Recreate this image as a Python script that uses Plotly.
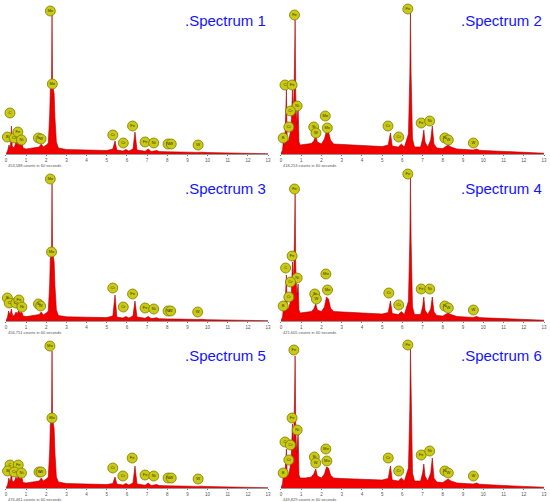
import plotly.graph_objects as go

# EDS spectra, energy in keV, intensity in relative counts (0-150 scale)
s1_energy = [0, 0.08, 0.15, 0.2, 0.24, 0.27, 0.31, 0.4, 0.5, 0.55, 0.6, 0.7, 0.78, 0.85, 1.0, 1.2, 1.5, 1.65,
             1.75, 1.85, 2.0, 2.1, 2.17, 2.2, 2.26, 2.285, 2.31, 2.35, 2.39, 2.43, 2.5, 2.6, 2.8, 3.0, 4.0, 5.0,
             5.3, 5.41, 5.5, 5.8, 5.95, 6.1, 6.3, 6.4, 6.5, 6.9, 7.06, 7.2, 7.48, 7.6, 8.0, 8.4, 8.6, 9.5, 9.67,
             10.0, 11.0, 12.0, 13.0]
s1_counts = [0, 3, 9, 6, 12, 28, 8, 6, 12, 9, 13, 10, 12, 6, 5, 5.5, 6, 7,
             10, 7, 9, 11, 40, 64, 70, 139, 70, 66, 60, 36, 12, 6, 5, 4.5, 4, 3.5,
             5, 13, 4, 3, 4.5, 3, 5, 22, 4, 2.8, 5, 2.5, 3.5, 2.4, 2.2, 2.5, 2, 1.6, 1.8,
             1.4, 1, 0.6, 0.3]

s2_energy = [0, 0.08, 0.12, 0.18, 0.22, 0.27, 0.31, 0.38, 0.45, 0.52, 0.57, 0.62, 0.67, 0.7, 0.73, 0.78, 0.85,
             0.89, 0.95, 1.2, 1.5, 1.62, 1.72, 1.8, 2.0, 2.15, 2.25, 2.35, 2.45, 2.6, 3.0, 4.0, 5.0, 5.3, 5.41,
             5.5, 5.8, 5.95, 6.1, 6.3, 6.37, 6.4, 6.43, 6.5, 6.6, 6.9, 7.0, 7.06, 7.12, 7.25, 7.4, 7.48, 7.56,
             7.7, 8.0, 8.26, 8.4, 8.7, 9.5, 9.67, 9.8, 10.0, 11.0, 12.0, 13.0]
s2_counts = [0, 4, 14, 8, 30, 64, 12, 14, 20, 35, 64, 40, 90, 134, 60, 30, 48,
             12, 9, 10, 10.5, 13, 18, 12, 10, 15, 23, 22, 14, 10, 9.5, 8.5, 7.5, 9, 21,
             8, 7, 10, 7, 20, 80, 141, 80, 15, 7, 7, 15, 24, 12, 7, 14, 28, 10,
             6, 5.5, 9, 7, 5, 4, 5, 3.8, 3.5, 2.5, 1.6, 0.8]

s3_energy = [0, 0.08, 0.13, 0.2, 0.27, 0.32, 0.4, 0.5, 0.55, 0.62, 0.7, 0.78, 0.85, 1.0, 1.2, 1.5, 1.65, 1.75,
             1.85, 2.0, 2.1, 2.17, 2.2, 2.26, 2.285, 2.31, 2.35, 2.39, 2.43, 2.5, 2.6, 2.8, 3.0, 4.0, 5.0, 5.3,
             5.41, 5.5, 5.8, 5.95, 6.1, 6.3, 6.4, 6.5, 6.9, 7.06, 7.2, 7.48, 7.6, 8.0, 8.4, 8.6, 9.5, 9.67,
             10.0, 11.0, 12.0, 13.0]
s3_counts = [0, 4, 10, 6, 12, 6, 5, 9, 7, 10, 8, 9, 5, 4.5, 5, 5.5, 6.5, 9,
             6, 8, 10, 38, 63, 69, 137, 69, 65, 59, 35, 11, 5.5, 4.5, 4.2, 3.8, 3.4, 5,
             26, 4, 3, 4.5, 3, 5, 20, 4, 2.8, 4.5, 2.5, 3.2, 2.3, 2.1, 2.4, 1.9, 1.5, 1.7,
             1.3, 0.9, 0.6, 0.3]

s4_energy = [0, 0.08, 0.12, 0.18, 0.22, 0.27, 0.31, 0.38, 0.45, 0.52, 0.57, 0.62, 0.67, 0.7, 0.73, 0.78, 0.85,
             0.89, 0.95, 1.2, 1.5, 1.62, 1.72, 1.8, 2.0, 2.15, 2.25, 2.35, 2.45, 2.6, 3.0, 4.0, 5.0, 5.3, 5.41,
             5.5, 5.8, 5.95, 6.1, 6.3, 6.37, 6.4, 6.43, 6.5, 6.6, 6.9, 7.0, 7.06, 7.12, 7.25, 7.4, 7.48, 7.56,
             7.7, 8.0, 8.26, 8.4, 8.7, 9.5, 9.67, 9.8, 10.0, 11.0, 12.0, 13.0]
s4_counts = [0, 4, 13, 8, 24, 46, 11, 13, 18, 30, 59, 38, 85, 127, 55, 26, 37,
             11, 8, 9, 9.5, 12, 17, 11, 9.5, 14, 24, 22, 13, 9.5, 9, 8, 7, 8.5, 20,
             7.5, 6.5, 9.5, 6.5, 20, 82, 144, 82, 14, 6.5, 6.5, 14, 24, 11, 6.5, 12, 24, 9,
             5.5, 5, 8, 6.5, 4.5, 3.6, 4.5, 3.4, 3.2, 2.3, 1.5, 0.8]

s5_energy = [0, 0.08, 0.14, 0.2, 0.24, 0.27, 0.31, 0.4, 0.5, 0.55, 0.6, 0.7, 0.78, 0.85, 1.0, 1.2, 1.5, 1.65,
             1.75, 1.85, 2.0, 2.1, 2.17, 2.2, 2.26, 2.285, 2.31, 2.35, 2.39, 2.43, 2.5, 2.6, 2.8, 3.0, 4.0, 5.0,
             5.3, 5.41, 5.5, 5.8, 5.95, 6.1, 6.3, 6.4, 6.5, 6.9, 7.06, 7.2, 7.48, 7.6, 8.0, 8.4, 8.6, 9.5, 9.67,
             10.0, 11.0, 12.0, 13.0]
s5_counts = [0, 3, 10, 6, 10, 19, 7, 6, 11, 8, 12, 9, 11, 5.5, 5, 5.5, 6, 7,
             10, 7, 9, 11, 38, 63, 69, 137, 69, 65, 59, 35, 11, 6, 5, 4.5, 4, 3.5,
             4.5, 11, 4, 3, 4.5, 3, 5, 22, 4, 2.8, 5, 2.5, 3.5, 2.4, 2.2, 2.5, 2, 1.6, 1.8,
             1.4, 1, 0.6, 0.3]

s6_energy = [0, 0.08, 0.12, 0.18, 0.22, 0.27, 0.31, 0.38, 0.45, 0.52, 0.57, 0.62, 0.67, 0.7, 0.73, 0.78, 0.85,
             0.89, 0.95, 1.2, 1.5, 1.62, 1.72, 1.8, 2.0, 2.15, 2.25, 2.35, 2.45, 2.6, 3.0, 4.0, 5.0, 5.3, 5.41,
             5.5, 5.8, 5.95, 6.1, 6.3, 6.37, 6.4, 6.43, 6.5, 6.6, 6.9, 7.0, 7.06, 7.12, 7.25, 7.4, 7.48, 7.56,
             7.7, 8.0, 8.26, 8.4, 8.7, 9.5, 9.67, 9.8, 10.0, 11.0, 12.0, 13.0]
s6_counts = [0, 4, 14, 9, 22, 39, 12, 14, 20, 36, 64, 42, 88, 132, 62, 34, 56,
             13, 10, 10, 11, 14, 19, 12, 10, 14, 21, 20, 13, 10, 9.5, 9, 8, 9.5, 22,
             8, 7, 10, 7, 20, 80, 139, 80, 15, 7, 7, 15, 24, 12, 7, 15, 30, 10,
             6, 5.5, 9, 7, 5, 4, 5, 3.8, 3.5, 2.5, 1.6, 0.8]

# peak label markers: element, energy, height
s1_lab_el = ["Mo", "Mo", "C", "B", "Cr", "Fe", "Ni", "Si", "W", "Cr", "Cr", "Fe", "Fe", "Ni", "Ni", "W", "W"]
s1_lab_e = [2.2, 2.3, 0.2, 0.07, 0.41, 0.59, 0.77, 1.61, 1.74, 5.3, 5.82, 6.28, 6.9, 7.33, 8.04, 8.2, 9.53]
s1_lab_h = [143, 70, 41, 17, 16, 22, 14, 16, 15, 19, 11, 28, 12, 11, 10, 10, 9]

s2_lab_el = ["Fe", "C", "Fe", "Ni", "Cr", "Cr", "B", "Si", "W", "Mo", "Mo", "Cr", "Cr", "Fe", "Fe", "Ni",
             "Ni", "W", "W"]
s2_lab_e = [0.67, 0.2, 0.55, 0.8, 0.47, 0.39, 0.11, 1.62, 1.73, 2.19, 2.29, 5.29, 5.82, 6.27, 6.93, 7.35,
            8.1, 8.27, 9.51]
s2_lab_h = [139, 69, 69, 48, 43, 27, 16, 27, 21, 38, 26, 28, 17, 145, 31, 33, 16, 14, 11]

s3_lab_el = ["Mo", "Mo", "B", "C", "Cr", "Fe", "Ni", "Si", "W", "Cr", "Cr", "Fe", "Fe", "Ni", "Ni", "W", "W"]
s3_lab_e = [2.2, 2.26, 0.07, 0.16, 0.49, 0.64, 0.79, 1.61, 1.72, 5.3, 5.82, 6.28, 6.9, 7.33, 8.04, 8.17, 9.51]
s3_lab_h = [142, 69, 23, 18, 18, 21, 14, 17, 15, 33, 14, 27, 13, 12, 10, 10, 9]

s4_lab_el = ["Fe", "Fe", "C", "Ni", "Cr", "Cr", "B", "Si", "W", "Mo", "Mo", "Cr", "Cr", "Fe", "Fe", "Ni",
             "Ni", "W", "W"]
s4_lab_e = [0.67, 0.55, 0.23, 0.8, 0.47, 0.39, 0.11, 1.67, 1.75, 2.22, 2.3, 5.33, 5.82, 6.27, 6.93, 7.35,
            8.1, 8.27, 9.51]
s4_lab_h = [132, 65, 53, 43, 39, 24, 15, 27, 22, 47, 31, 28, 16, 147, 32, 32, 15, 13, 11]

s5_lab_el = ["Mo", "Mo", "C", "Fe", "B", "Cr", "Ni", "Si", "W", "Cr", "Cr", "Fe", "Fe", "Ni", "Ni", "W", "W"]
s5_lab_e = [2.18, 2.28, 0.2, 0.61, 0.08, 0.41, 0.77, 1.64, 1.74, 5.3, 5.8, 6.26, 6.9, 7.33, 8.04, 8.2, 9.53]
s5_lab_h = [142, 70, 23, 23, 17, 16, 15, 16, 16, 20, 12, 30, 13, 12, 10, 10, 9]

s6_lab_el = ["Fe", "Fe", "Ni", "C", "Cr", "Cr", "B", "Si", "W", "Mo", "Mo", "Cr", "Cr", "Fe", "Fe", "Ni",
             "Ni", "W", "W"]
s6_lab_e = [0.64, 0.55, 0.8, 0.2, 0.47, 0.39, 0.11, 1.65, 1.72, 2.22, 2.27, 5.3, 5.82, 6.27, 6.93, 7.35,
            8.1, 8.27, 9.51]
s6_lab_h = [138, 70, 58, 46, 43, 28, 15, 31, 25, 39, 27, 30, 17, 143, 33, 37, 17, 15, 12]

spectrum_names = [".Spectrum 1", ".Spectrum 2", ".Spectrum 3", ".Spectrum 4", ".Spectrum 5", ".Spectrum 6"]
count_notes = ["453,588 counts in 60 seconds", "418,253 counts in 60 seconds", "456,751 counts in 60 seconds",
               "421,605 counts in 60 seconds", "476,461 counts in 60 seconds", "449,829 counts in 60 seconds"]

spectra = [
    (s1_energy, s1_counts, s1_lab_el, s1_lab_e, s1_lab_h),
    (s2_energy, s2_counts, s2_lab_el, s2_lab_e, s2_lab_h),
    (s3_energy, s3_counts, s3_lab_el, s3_lab_e, s3_lab_h),
    (s4_energy, s4_counts, s4_lab_el, s4_lab_e, s4_lab_h),
    (s5_energy, s5_counts, s5_lab_el, s5_lab_e, s5_lab_h),
    (s6_energy, s6_counts, s6_lab_el, s6_lab_e, s6_lab_h),
]

W, H = 550, 502
col_px = [(5, 269), (282, 547)]
row_px = [(154, 4), (321, 171), (488, 338)]  # baseline, top (pixels from top)

fig = go.Figure()

for i, (e, c, lab_el, lab_e, lab_h) in enumerate(spectra):
    row, col = divmod(i, 2)
    n = "" if i == 0 else str(i + 1)
    xa, ya = "x" + n, "y" + n

    fig.add_trace(go.Scatter(
        x=e, y=c, mode="lines", fill="tozeroy",
        fillcolor="#f20000", line=dict(color="#a30000", width=0.6),
        xaxis=xa, yaxis=ya, showlegend=False, hoverinfo="skip"))

    fig.add_trace(go.Scatter(
        x=lab_e, y=lab_h, mode="markers+text", text=lab_el,
        textposition="middle center",
        textfont=dict(size=4, color="#333300", family="Liberation Sans"),
        marker=dict(size=10, color="#c9c916", line=dict(color="#7d7d00", width=0.8)),
        xaxis=xa, yaxis=ya, showlegend=False, cliponaxis=False, hoverinfo="skip"))

    x0, x1 = col_px[col]
    base, top = row_px[row]
    fig.layout["xaxis" + n] = dict(
        domain=[x0 / W, x1 / W], range=[0, 13], anchor=ya,
        tickmode="linear", tick0=0, dtick=1, ticks="outside", ticklen=1.5,
        tickcolor="#777", tickwidth=0.5,
        tickfont=dict(size=4.5, color="#555", family="Liberation Sans"),
        showline=True, linecolor="#999", linewidth=0.6,
        showgrid=False, zeroline=False, fixedrange=True)
    fig.layout["yaxis" + n] = dict(
        domain=[1 - base / H, 1 - top / H], range=[0, 150], anchor=xa,
        visible=False, fixedrange=True)

    fig.add_annotation(
        text=spectrum_names[i], xref="paper", yref="paper",
        x=x1 / W, y=1 - (top + 17) / H, xanchor="right", yanchor="middle",
        showarrow=False, font=dict(size=15, color="#1414ff", family="Liberation Sans"))
    fig.add_annotation(
        text=count_notes[i], xref="paper", yref="paper",
        x=x0 / W, y=1 - (base + 11.5) / H, xanchor="left", yanchor="middle",
        showarrow=False, font=dict(size=4, color="#555", family="Liberation Sans"))

fig.update_layout(
    width=W, height=H, margin=dict(l=0, r=0, t=0, b=0),
    paper_bgcolor="white", plot_bgcolor="white")

# drop the browser's default body margin so the 550x502 figure fills the window
fig.write_html("out.html", config={"displayModeBar": False},
               post_script="document.body.style.margin='0';document.body.style.overflow='hidden';")
